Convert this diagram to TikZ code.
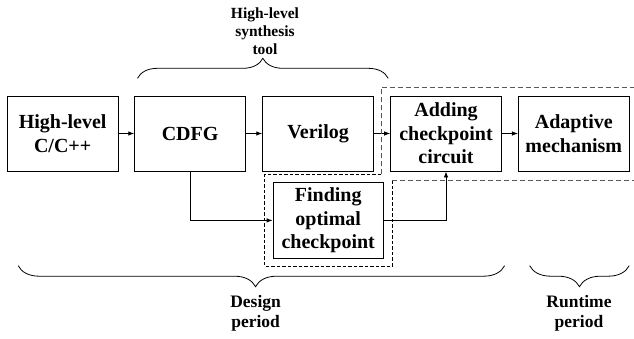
\documentclass[tikz,border=0pt]{standalone}
\usepackage{fontspec}
\setmainfont{Liberation Serif}[BoldFont={Liberation Serif Bold},ItalicFont={Liberation Serif Italic}]
\newfontfamily\tnrbold{Liberation Serif Bold}
\usetikzlibrary{arrows.meta,decorations.pathreplacing}
\begin{document}
\begin{tikzpicture}[x=1pt,y=1pt,
  box/.style={draw,line width=0.9pt,minimum width=110.8pt,minimum height=75pt,inner sep=0pt,align=center,
    font=\tnrbold\fontsize{20}{23.5}\selectfont},
  conn/.style={line width=0.8pt,-{Latex[length=6pt,width=4.5pt]}},
  lbl/.style={align=center,font=\tnrbold\fontsize{17.5}{20}\selectfont},
  toplbl/.style={align=center,font=\tnrbold\fontsize{15.5}{18}\selectfont},
  brc/.style={decorate,line width=0.8pt,decoration={brace,amplitude=20pt}},
  dsh/.style={line width=0.8pt,dash pattern=on 3.5pt off 2pt},
  gdsh/.style={line width=0.9pt,draw=black!65,dash pattern=on 5pt off 3pt}]
\useasboundingbox (0,0) rectangle (634,-339);
% boxes
\node[box] (src) at (62.65,-133.5) {High-level\\C/C++};
\node[box] (cdfg) at (190.1,-133.5) {CDFG};
\node[box] (ver) at (318.1,-133.5) {Verilog};
\node[box] (add) at (446,-133.5) {Adding\\checkpoint\\circuit};
\node[box] (ada) at (573.8,-133.5) {Adaptive\\mechanism};
\node[box,minimum width=110.3pt,minimum height=75.8pt] (find) at (328.2,-220.4) {Finding\\optimal\\checkpoint};
% connectors
\draw[conn] (src) -- (cdfg);
\draw[conn] (cdfg) -- (ver);
\draw[conn] (ver) -- (add);
\draw[conn] (add) -- (ada);
\draw[conn] (cdfg.south) |- (find.west);
\draw[conn] (find.east) -| (add.south);
% dashed regions
\draw[dsh] (381,-174.5) -- (264.5,-174.5) -- (264.5,-266) -- (392.2,-266) -- (392.2,-180);
\draw[gdsh] (392.2,-180) -- (634,-180);
\draw[gdsh] (381,-174.5) -- (381,-87.7) -- (634,-87.7);
% braces
\draw[brc] (137.5,-78.3) -- (388.2,-78.3);
\node[toplbl] (hls) at (265,-31.5) {High-level\\synthesis\\tool};
\draw[brc,decoration={brace,amplitude=21pt,aspect=0.512}] (504.6,-265.7) -- (18.2,-265.7);
\node[lbl] (design) at (255.6,-313.3) {Design\\period};
\draw[brc,decoration={brace,amplitude=21pt}] (629.2,-265.7) -- (529.7,-265.7);
\node[lbl] (runtime) at (579,-313.3) {Runtime\\period};
\end{tikzpicture}
\end{document}
